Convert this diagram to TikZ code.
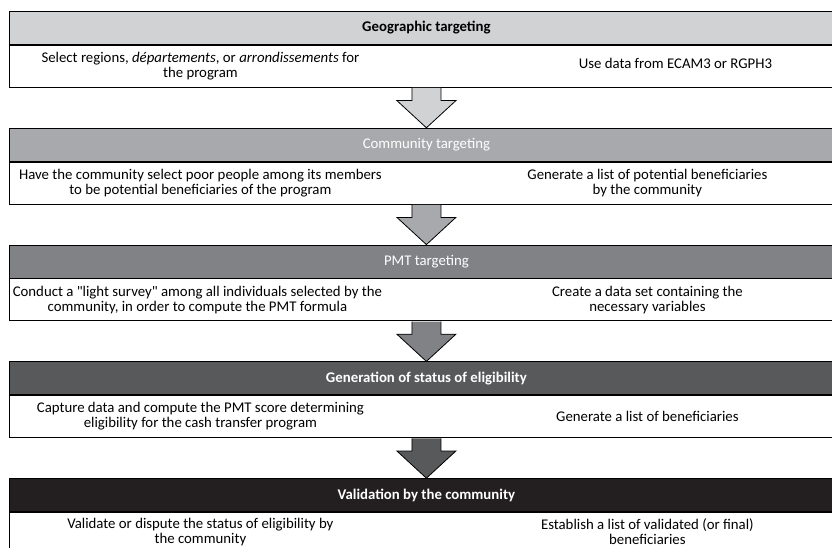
\documentclass[tikz,border=0pt]{standalone}
\usepackage{fontspec}
\setmainfont{Carlito}
\newfontfamily\cellfont{Carlito}
\usetikzlibrary{positioning,calc}
\definecolor{tone1}{HTML}{D1D2D4}
\definecolor{tone2}{HTML}{A7A9AC}
\definecolor{tone3}{HTML}{808285}
\definecolor{tone4}{HTML}{58595B}
\definecolor{tone5}{HTML}{231F20}
\newcommand\txtsize{\cellfont\fontsize{14.8}{15}\selectfont}

\begin{document}
\begin{tikzpicture}[x=1pt,y=-1pt,
    stagehead/.style={draw=black,line width=0.8pt,minimum width=834pt,minimum height=33pt,inner sep=0pt,font=\txtsize},
    stagebody/.style={draw=black,line width=0.8pt,fill=white,minimum width=834pt,minimum height=42pt,inner sep=0pt},
    cell/.style={align=center,inner sep=0pt,font=\txtsize},
    downarrow/.style={draw=black,line width=0.8pt}]
  \clip (0,0) rectangle (832,548);
  % Geographic targeting
  \node[stagehead,fill=tone1,anchor=north west,font=\txtsize\bfseries] (h1) at (9,11) {Geographic targeting};
  \node[stagebody,below=0pt of h1] (b1) {};
  \node[cell] (l1) at ($(b1.center)+(-226,0)$) {Select regions, \emph{départements}, or \emph{arrondissements} for\\the program};
  \node[cell] (r1) at ($(b1.center)+(249,-3)$) {Use data from ECAM3 or RGPH3};
  % Community targeting
  \node[stagehead,fill=tone2,text=white,below=40.2pt of b1] (h2) {Community targeting};
  \node[stagebody,below=0pt of h2] (b2) {};
  \node[cell] (l2) at ($(b2.center)+(-226,0)$) {Have the community select poor people among its members\\to be potential beneficiaries of the program};
  \node[cell] (r2) at ($(b2.center)+(221,0)$) {Generate a list of potential beneficiaries\\by the community};
  % PMT targeting
  \node[stagehead,fill=tone3,text=white,below=40.2pt of b2] (h3) {PMT targeting};
  \node[stagebody,below=0pt of h3] (b3) {};
  \node[cell] (l3) at ($(b3.center)+(-229,0)$) {Conduct a "light survey" among all individuals selected by the\\community, in order to compute the PMT formula};
  \node[cell] (r3) at ($(b3.center)+(221,0)$) {Create a data set containing the\\necessary variables};
  % Generation of status of eligibility
  \node[stagehead,fill=tone4,text=white,font=\txtsize\bfseries,below=40.2pt of b3] (h4) {Generation of status of eligibility};
  \node[stagebody,below=0pt of h4] (b4) {};
  \node[cell] (l4) at ($(b4.center)+(-226,0)$) {Capture data and compute the PMT score determining\\eligibility for the cash transfer program};
  \node[cell] (r4) at ($(b4.center)+(221,0)$) {Generate a list of beneficiaries};
  % Validation by the community
  \node[stagehead,fill=tone5,text=white,font=\txtsize\bfseries,below=40.2pt of b4] (h5) {Validation by the community};
  \node[stagebody,below=0pt of h5] (b5) {};
  \node[cell] (l5) at ($(b5.center)+(-226,-1.5)$) {Validate or dispute the status of eligibility by\\the community};
  \node[cell] (r5) at ($(b5.center)+(221,-1.5)$) {Establish a list of validated (or final)\\beneficiaries};
  % arrows between the stages
  \draw[downarrow,fill=tone1] ($(b1.south)+(-14.5,0.4)$) -- ++(0,12.6) -- ++(-15,0) -- (h2.north) -- ($(b1.south)+(29.5,13)$) -- ++(-15,0) -- ++(0,-12.6);
  \draw[downarrow,fill=tone2] ($(b2.south)+(-14.5,0.4)$) -- ++(0,12.6) -- ++(-15,0) -- (h3.north) -- ($(b2.south)+(29.5,13)$) -- ++(-15,0) -- ++(0,-12.6);
  \draw[downarrow,fill=tone3] ($(b3.south)+(-14.5,0.4)$) -- ++(0,12.6) -- ++(-15,0) -- (h4.north) -- ($(b3.south)+(29.5,13)$) -- ++(-15,0) -- ++(0,-12.6);
  \draw[downarrow,fill=tone4] ($(b4.south)+(-14.5,0.4)$) -- ++(0,12.6) -- ++(-15,0) -- (h5.north) -- ($(b4.south)+(29.5,13)$) -- ++(-15,0) -- ++(0,-12.6);
\end{tikzpicture}
\end{document}
